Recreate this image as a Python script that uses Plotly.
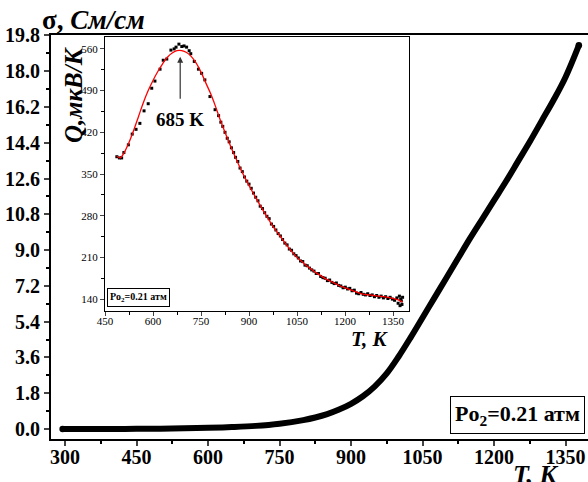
import plotly.graph_objects as go

# ---- conductivity sigma(T), main panel ----
T_sigma = [295, 350, 400, 450, 500, 550, 600, 650, 700, 750, 800, 825, 850, 875,
           900, 925, 950, 975, 1000, 1025, 1050, 1075, 1100, 1125, 1150, 1175,
           1200, 1225, 1250, 1275, 1300, 1325, 1350, 1378]
sigma = [0.0, 0.0, 0.0, 0.01, 0.02, 0.04, 0.06, 0.1, 0.16, 0.27, 0.45, 0.58, 0.75, 0.98,
         1.27, 1.65, 2.15, 2.8, 3.65, 4.6, 5.6, 6.6, 7.6, 8.6, 9.6, 10.55,
         11.5, 12.45, 13.45, 14.45, 15.5, 16.55, 17.7, 19.3]

# ---- thermopower Q(T), inset: measured points ----
T_q = [487, 495, 502, 509, 523, 535, 547, 559, 572, 585, 596, 606, 622, 632, 643,
       656, 666, 672, 681, 690, 697, 705, 713, 718, 729, 742, 752, 762, 778, 794,
       805, 812, 818, 825, 832, 838, 845, 852, 858, 865, 872, 879, 886, 893,
       900, 907, 914, 921, 928, 935, 942, 949, 956, 963, 970, 977, 984, 991, 998,
       1005, 1012, 1019, 1026, 1033, 1040, 1047, 1054, 1061, 1068, 1075, 1082,
       1089, 1096, 1103, 1110, 1117, 1124, 1131, 1138, 1145, 1152, 1159, 1166,
       1173, 1180, 1187, 1194, 1201, 1208, 1215, 1222, 1229, 1236, 1243, 1250,
       1257, 1264, 1271, 1278, 1285, 1292, 1299, 1306, 1313, 1320, 1327, 1334,
       1341, 1348, 1355, 1362, 1366, 1370, 1372, 1374, 1376, 1378, 1380]
Q = [379, 377, 377, 386, 399, 417, 425, 435, 456, 468, 494, 506, 526, 541, 543,
     558, 560, 563, 568, 564, 565, 563, 557, 552, 539, 526, 519, 508, 480, 458,
     448, 437, 430, 420, 410, 404, 394, 386, 378, 371, 360, 354, 345, 338,
     333, 326, 318, 311, 305, 296, 292, 285, 279, 275, 266, 262, 256, 250, 246,
     240, 234, 231, 224, 222, 216, 213, 209, 204, 203, 197, 196,
     192, 189, 187, 183, 183, 178, 176, 175, 171, 172, 168, 166,
     167, 163, 162, 159, 160, 157, 158, 154, 155, 150, 149, 151,
     148, 147, 149, 146, 147, 144, 146, 143, 145, 142, 144, 141,
     143, 140, 138, 142, 133, 145, 129, 140, 137, 131, 143]

# ---- inset: smooth fit ----
T_fit = [487, 497, 510, 525, 540, 555, 570, 585, 600, 615, 630, 645, 660, 675,
         690, 705, 720, 735, 750, 765, 780, 795, 810, 825, 840, 855, 870, 885,
         900, 915, 930, 945, 960, 975, 990, 1005, 1020, 1035, 1050, 1065, 1080,
         1095, 1110, 1125, 1140, 1155, 1170, 1185, 1200, 1215, 1230, 1245, 1260,
         1275, 1290, 1305, 1320, 1335, 1350, 1365, 1380]
Q_fit = [380, 377, 386, 403, 424, 447, 470, 490, 507, 522, 535, 546, 553, 557,
         557, 554, 547, 536, 521, 503, 485, 464, 441, 420, 400, 381, 363, 346,
         331, 316, 302, 288, 275, 262, 251, 240, 229, 219, 210, 203, 196,
         190, 184, 179, 174, 170, 166, 162, 159, 156, 153, 150, 148,
         147, 146, 145, 144, 143, 141, 139, 135]

peak_T = 685

# axis ticks
x_ticks = [300, 450, 600, 750, 900, 1050, 1200, 1350]
y_ticks = [0.0, 1.8, 3.6, 5.4, 7.2, 9.0, 10.8, 12.6, 14.4, 16.2, 18.0, 19.8]
x2_ticks = [450, 600, 750, 900, 1050, 1200, 1350]
y2_ticks = [140, 210, 280, 350, 420, 490, 560]

SERIF = "Liberation Serif, Times New Roman, serif"
W, H = 588, 482
PL, PR, PT, PB = 51, 588, 35, 439   # plot area in pixels


def px_x(p):
    return (p - PL) / (PR - PL)


def px_y(p):
    return (PB - p) / (PB - PT)


fig = go.Figure()

fig.add_trace(go.Scatter(
    x=T_sigma, y=sigma, mode="lines", line=dict(color="black", width=6, shape="spline"),
    xaxis="x", yaxis="y", hoverinfo="skip"))
fig.add_trace(go.Scatter(
    x=[T_sigma[0], T_sigma[-1]], y=[sigma[0], sigma[-1]], mode="markers",
    marker=dict(color="black", size=6.5), xaxis="x", yaxis="y", hoverinfo="skip"))

fig.add_trace(go.Scatter(
    x=T_q, y=Q, mode="markers", marker=dict(color="black", size=3, symbol="square"),
    xaxis="x2", yaxis="y2", hoverinfo="skip"))
fig.add_trace(go.Scatter(
    x=T_fit, y=Q_fit, mode="lines", line=dict(color="red", width=1.3, shape="spline"),
    xaxis="x2", yaxis="y2", hoverinfo="skip"))

main_tick_font = dict(family=SERIF, size=20, color="black", weight="bold")
inset_tick_font = dict(family=SERIF, size=11, color="black")

fig.update_layout(
    width=W, height=H,
    margin=dict(l=PL, r=W - PR, t=PT, b=H - PB, pad=0),
    paper_bgcolor="white", plot_bgcolor="white",
    showlegend=False,
    xaxis=dict(
        range=[270.6, 1397.2], tickvals=x_ticks, ticks="outside", ticklen=5, tickwidth=2,
        showline=True, linewidth=2, linecolor="black", mirror=True,
        showgrid=False, zeroline=False, tickfont=main_tick_font, ticklabelstandoff=-6,
        minor=dict(ticks="outside", ticklen=3, tickwidth=1.5, dtick=75, tick0=300,
                   tickcolor="black"),
    ),
    yaxis=dict(
        range=[-0.5, 19.82], tickvals=y_ticks, ticktext=[f"{v:.1f}" for v in y_ticks],
        ticks="outside", ticklen=5, tickwidth=2,
        showline=True, linewidth=2, linecolor="black",
        showgrid=False, zeroline=False, tickfont=main_tick_font,
        minor=dict(ticks="outside", ticklen=3, tickwidth=1.5, dtick=0.9, tick0=0,
                   tickcolor="black"),
    ),
    xaxis2=dict(
        domain=[px_x(105), px_x(409)], anchor="y2", range=[450, 1400],
        tickvals=x2_ticks, ticks="outside", ticklen=4, tickwidth=1,
        showline=True, linewidth=1, linecolor="black", mirror=True,
        showgrid=False, zeroline=False, tickfont=inset_tick_font, ticklabelstandoff=-4,
        minor=dict(ticks="outside", ticklen=3, tickwidth=1, dtick=75, tick0=450,
                   tickcolor="black"),
    ),
    yaxis2=dict(
        domain=[px_y(311), px_y(37)], anchor="x2", range=[120, 580],
        tickvals=y2_ticks, ticks="outside", ticklen=4, tickwidth=1,
        showline=True, linewidth=1, linecolor="black", mirror=True,
        showgrid=False, zeroline=False, tickfont=inset_tick_font,
        minor=dict(ticks="outside", ticklen=3, tickwidth=1, dtick=35, tick0=140,
                   tickcolor="black"),
    ),
)

ann = []
# axis titles of the main panel
ann.append(dict(text="σ, <i>См/см</i>", xref="paper", yref="paper",
                x=px_x(40), y=px_y(20), xanchor="left", yanchor="middle", showarrow=False,
                font=dict(family=SERIF, size=27, color="black", weight="bold")))
ann.append(dict(text="<i>T, K</i>", xref="paper", yref="paper",
                x=px_x(535), y=px_y(474), xanchor="center", yanchor="middle", showarrow=False,
                font=dict(family=SERIF, size=26, color="black", weight="bold")))
# oxygen partial pressure boxes
ann.append(dict(text="Po<sub>2</sub>=0.21 атм", xref="paper", yref="paper",
                x=px_x(517.5), y=px_y(414.5), xanchor="center", yanchor="middle",
                showarrow=False, bordercolor="black", borderwidth=1, borderpad=4,
                bgcolor="white",
                font=dict(family=SERIF, size=22, color="black", weight="bold")))
ann.append(dict(text="Po<sub>2</sub>=0.21 атм", xref="paper", yref="paper",
                x=px_x(138.5), y=px_y(297), xanchor="center", yanchor="middle",
                showarrow=False, bordercolor="black", borderwidth=1, borderpad=2,
                bgcolor="white",
                font=dict(family=SERIF, size=10, color="black", weight="bold")))
# inset axis titles
ann.append(dict(text="<i>T, K</i>", xref="paper", yref="paper",
                x=px_x(369), y=px_y(339), xanchor="center", yanchor="middle", showarrow=False,
                font=dict(family=SERIF, size=21, color="black", weight="bold")))
ann.append(dict(text="<i>Q,мкВ/К</i>", xref="paper", yref="paper",
                x=px_x(73), y=px_y(95), xanchor="center", yanchor="middle", showarrow=False,
                textangle=-90,
                font=dict(family=SERIF, size=25, color="black", weight="bold")))
# peak marker
ann.append(dict(text="", xref="x2", yref="y2", x=peak_T, y=547,
                axref="x2", ayref="y2", ax=peak_T, ay=474,
                showarrow=True, arrowhead=2, arrowsize=1, arrowwidth=1.2,
                arrowcolor="#333333"))
ann.append(dict(text=f"{peak_T} K", xref="x2", yref="y2", x=peak_T, y=441,
                xanchor="center", yanchor="middle", showarrow=False,
                font=dict(family=SERIF, size=19, color="black", weight="bold")))
fig.update_layout(annotations=ann)

fig.write_html("out.html")
